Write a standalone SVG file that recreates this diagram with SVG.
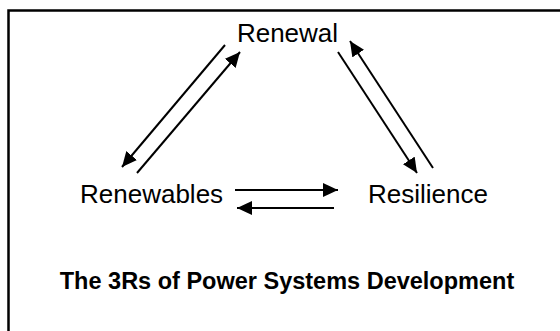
<svg xmlns="http://www.w3.org/2000/svg" width="560" height="331" viewBox="0 0 560 331">
  <style>
    .lbl { font-family: "Liberation Sans", Arial, sans-serif; font-size: 26px; fill: #000; }
    .title { font-family: "Liberation Sans", Arial, sans-serif; font-size: 23.5px; font-weight: bold; fill: #000; }
    .conn { stroke: #000; stroke-width: 2; fill: none; marker-end: url(#ah); }
  </style>
  <defs>
    <marker id="ah" markerUnits="userSpaceOnUse" markerWidth="16" markerHeight="14" refX="15" refY="7" orient="auto">
      <path d="M0,0 L15,7 L0,14 z" fill="#000"/>
    </marker>
  </defs>
  <rect x="0" y="0" width="560" height="331" fill="#fff"/>
  <rect x="8.5" y="10.5" width="600" height="400" fill="none" stroke="#000" stroke-width="2.5"/>
  <g id="node-renewal"><text class="lbl" x="287.5" y="42" text-anchor="middle">Renewal</text></g>
  <g id="node-renewables"><text class="lbl" x="80" y="203">Renewables</text></g>
  <g id="node-resilience"><text class="lbl" x="368" y="203">Resilience</text></g>
  <g id="title"><text class="title" x="287" y="289" text-anchor="middle">The 3Rs of Power Systems Development</text></g>
  <g id="connectors">
    <line class="conn" x1="225" y1="45" x2="122" y2="167"/>
    <line class="conn" x1="137" y1="173" x2="240" y2="52"/>
    <line class="conn" x1="338" y1="52" x2="417" y2="173"/>
    <line class="conn" x1="433" y1="168" x2="350" y2="41"/>
    <line class="conn" x1="235" y1="190" x2="338" y2="190"/>
    <line class="conn" x1="334" y1="208" x2="237" y2="208"/>
  </g>
</svg>
